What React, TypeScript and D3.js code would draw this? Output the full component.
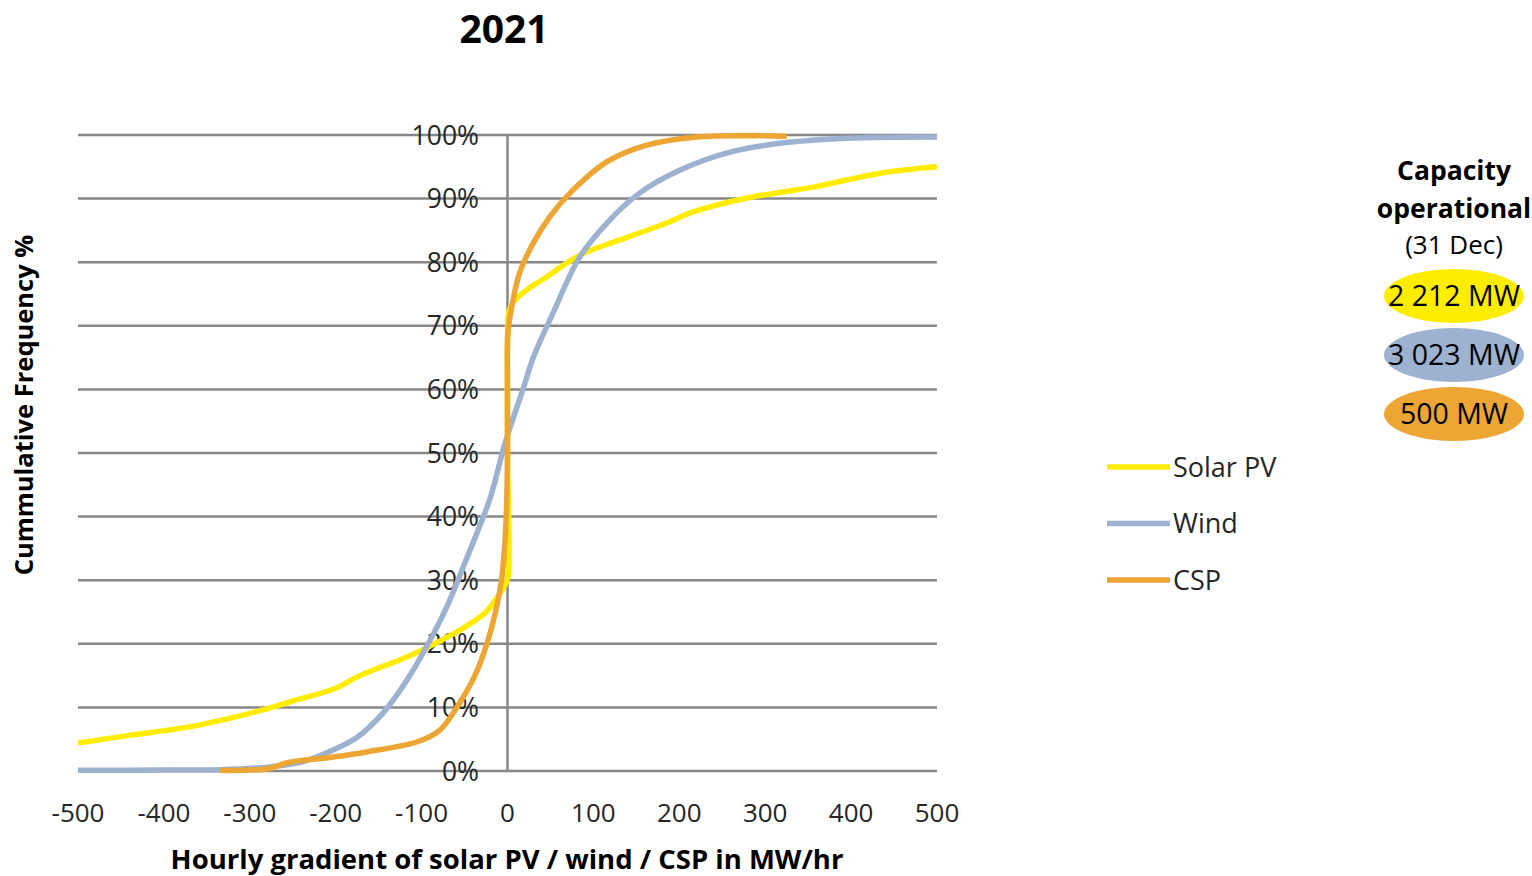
import React from "react";
import * as d3 from "d3";

const xTicks = [-500, -400, -300, -200, -100, 0, 100, 200, 300, 400, 500];
const yTicks = [0, 10, 20, 30, 40, 50, 60, 70, 80, 90, 100];

// [gradient MW/hr, cumulative %]
const solarPV: [number, number][] = [
  [-500, 4.4], [-440, 5.6], [-372, 6.9], [-320, 8.4], [-285, 9.6], [-250, 11], [-200, 13], [-175, 14.8], [-150, 16.2],
  [-125, 17.5], [-100, 19], [-75, 20.7], [-50, 22.6], [-25, 25], [-10, 27.7], [-2, 29.5], [1, 31], [0, 50], [0, 68],
  [1, 71.7], [6, 73.6], [26, 76], [46, 77.7], [69, 79.9], [92, 81.6], [131, 83.5], [186, 86.2], [216, 87.9],
  [279, 90.1], [356, 91.8], [434, 94], [500, 95],
];

const wind: [number, number][] = [
  [-500, 0.1], [-400, 0.15], [-335, 0.2], [-280, 0.6], [-240, 1.4], [-203, 3.3], [-175, 5.3], [-145, 9.1],
  [-117, 14.3], [-90, 20.6], [-70, 26], [-47, 33.6], [-20, 43], [-3, 51.5], [18, 60], [30, 65], [53, 72],
  [84, 80.8], [116, 86.2], [154, 90.9], [201, 94.5], [259, 97.3], [317, 98.7], [395, 99.5], [500, 99.7],
];

const csp: [number, number][] = [
  [-335, 0.1], [-277, 0.4], [-257, 1.3], [-203, 2.2], [-164, 3], [-105, 4.6], [-79, 6.4], [-59, 10], [-38, 15],
  [-24, 20], [-14, 25], [-7, 30], [-3, 36], [-1, 42], [0, 50], [0, 60], [0.5, 68.9], [5, 73], [14, 78.3], [30, 83],
  [49, 87.1], [73, 90.9], [116, 95.8], [162, 98.4], [221, 99.7], [325, 99.8],
];

const seriesNames = ["Solar PV", "Wind", "CSP"];
const seriesColors = ["#FFED00", "#9DB1D0", "#EDA533"];
const capacities = ["2 212 MW", "3 023 MW", "500 MW"];

export default function App() {
  const width = 1532;
  const height = 876;
  const x = d3.scaleLinear().domain([-500, 500]).range([78, 937]);
  const y = d3.scaleLinear().domain([0, 100]).range([771, 135]);
  const lineX = d3
    .line<[number, number]>()
    .x((d) => x(d[0]))
    .y((d) => y(d[1]))
    .curve(d3.curveCatmullRom.alpha(0.5));
  const data = [solarPV, wind, csp];
  const font = "'Open Sans', sans-serif";

  return (
    <svg width={width} height={height} style={{ position: "absolute", left: 0, top: 0 }} fontFamily={font}>
      <rect width={width} height={height} fill="#fff" />
      <text x={504} y={43} textAnchor="middle" fontSize={39} fontWeight="bold" fill="#000">
        2021
      </text>
      {yTicks.map((t) => (
        <line key={t} x1={78} x2={937} y1={y(t)} y2={y(t)} stroke="#878787" strokeWidth={2.5} />
      ))}
      <line x1={x(0)} x2={x(0)} y1={y(100)} y2={y(0)} stroke="#878787" strokeWidth={2.5} />
      {yTicks.map((t) => (
        <text key={t} x={479} y={y(t)} dy="0.36em" textAnchor="end" fontSize={26.5} fill="#262626">
          {t}%
        </text>
      ))}
      {xTicks.map((t) => (
        <text key={t} x={x(t)} y={813} dy="0.36em" textAnchor="middle" fontSize={26} fill="#262626">
          {t}
        </text>
      ))}
      {data.map((d, i) => (
        <path
          key={i}
          d={lineX(d) || ""}
          fill="none"
          stroke={seriesColors[i]}
          strokeWidth={5.5}
          strokeLinejoin="round"
        />
      ))}
      <text
        transform={`translate(33,405) rotate(-90)`}
        textAnchor="middle"
        fontSize={25.5}
        fontWeight="bold"
        fill="#000"
      >
        Cummulative Frequency %
      </text>
      <text x={507} y={869} textAnchor="middle" fontSize={27.5} fontWeight="bold" fill="#000">
        Hourly gradient of solar PV / wind / CSP in MW/hr
      </text>
      {seriesNames.map((n, i) => (
        <g key={n} transform={`translate(0, ${467 + i * 56.5})`}>
          <line x1={1107} x2={1170} y1={0} y2={0} stroke={seriesColors[i]} strokeWidth={5.5} />
          <text x={1173} y={0} dy="0.36em" fontSize={27} fill="#262626">
            {n}
          </text>
        </g>
      ))}
      <text x={1454} y={180} textAnchor="middle" fontSize={26.5} fontWeight="bold" fill="#000">
        Capacity
      </text>
      <text x={1454} y={218} textAnchor="middle" fontSize={26.5} fontWeight="bold" fill="#000">
        operational
      </text>
      <text x={1454} y={254} textAnchor="middle" fontSize={26} fill="#000">
        (31 Dec)
      </text>
      {capacities.map((c, i) => (
        <g key={c} transform={`translate(1454, ${296 + i * 59})`}>
          <ellipse rx={70} ry={27} fill={seriesColors[i]} />
          <text textAnchor="middle" dy="0.36em" fontSize={28.5} fill="#000">
            {c}
          </text>
        </g>
      ))}
    </svg>
  );
}
